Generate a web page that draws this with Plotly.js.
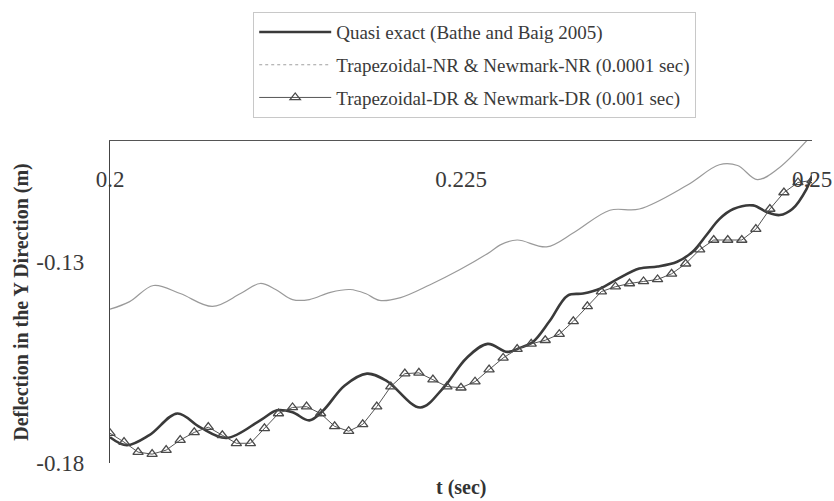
<!DOCTYPE html>
<html>
<head>
<meta charset="utf-8">
<script src="https://cdn.plot.ly/plotly-3.0.1.min.js"></script>
<style>html,body{margin:0;padding:0;background:#fff;}#chart{width:834px;height:501px;}</style>
</head>
<body>
<div id="chart"></div>
<script>
// Quasi exact (Bathe and Baig 2005)
var quasiT = [0.2000,0.2012,0.2028,0.2048,0.2064,0.2083,0.2107,0.2119,0.2130,0.2142,0.2152,0.2167,0.2183,0.2197,0.2221,0.2237,0.2254,0.2269,0.2283,0.2292,0.2301,0.2313,0.2326,0.2337,0.2349,0.2361,0.2377,0.2390,0.2404,0.2415,0.2425,0.2434,0.2444,0.2458,0.2468,0.2477,0.2486,0.2496,0.2500];
var quasiY = [-0.1736,-0.1756,-0.1731,-0.1677,-0.1711,-0.1738,-0.1694,-0.1669,-0.1674,-0.1694,-0.1669,-0.1608,-0.1578,-0.1596,-0.1662,-0.1615,-0.1539,-0.1504,-0.1524,-0.1514,-0.1500,-0.1448,-0.1384,-0.1379,-0.1367,-0.1344,-0.1317,-0.1312,-0.1300,-0.1275,-0.1233,-0.1194,-0.1169,-0.1160,-0.1177,-0.1184,-0.1169,-0.1120,-0.1086];

// Trapezoidal-NR & Newmark-NR (0.0001 sec)
var nrT = [0.2000,0.2014,0.2031,0.2050,0.2073,0.2093,0.2107,0.2118,0.2130,0.2142,0.2157,0.2171,0.2182,0.2192,0.2207,0.2228,0.2249,0.2271,0.2278,0.2290,0.2311,0.2331,0.2356,0.2377,0.2411,0.2434,0.2447,0.2461,0.2475,0.2500];
var nrY = [-0.1418,-0.1399,-0.1359,-0.1379,-0.1411,-0.1379,-0.1354,-0.1369,-0.1394,-0.1394,-0.1376,-0.1369,-0.1379,-0.1396,-0.1389,-0.1357,-0.1320,-0.1275,-0.1258,-0.1246,-0.1263,-0.1226,-0.1172,-0.1169,-0.1110,-0.1059,-0.1061,-0.1096,-0.1071,-0.0985];

// Trapezoidal-DR & Newmark-DR (0.001 sec)
var drT = [0.200,0.201,0.202,0.203,0.204,0.205,0.206,0.207,0.208,0.209,0.210,0.211,0.212,0.213,0.214,0.215,0.216,0.217,0.218,0.219,0.220,0.221,0.222,0.223,0.224,0.225,0.226,0.227,0.228,0.229,0.230,0.231,0.232,0.233,0.234,0.235,0.236,0.237,0.238,0.239,0.240,0.241,0.242,0.243,0.244,0.245,0.246,0.247,0.248,0.249,0.250];
var drY = [-0.1726,-0.1748,-0.1773,-0.1778,-0.1768,-0.1743,-0.1724,-0.1711,-0.1731,-0.1751,-0.1751,-0.1714,-0.1677,-0.1662,-0.1660,-0.1677,-0.1709,-0.1721,-0.1704,-0.1660,-0.1610,-0.1578,-0.1576,-0.1593,-0.1610,-0.1613,-0.1598,-0.1568,-0.1539,-0.1517,-0.1504,-0.1495,-0.1480,-0.1448,-0.1411,-0.1374,-0.1362,-0.1354,-0.1349,-0.1344,-0.1330,-0.1305,-0.1270,-0.1246,-0.1246,-0.1246,-0.1219,-0.1169,-0.1128,-0.1103,-0.1098];

var xTickVals = [0.2, 0.225, 0.25];
var xTickText = ['0.2', '0.225', '0.25'];
var yTickVals = [-0.18, -0.13];
var yTickText = ['-0.18', '-0.13'];

var serif = 'Liberation Serif, Times New Roman, serif';

var traces = [
  {x: quasiT, y: quasiY, type: 'scatter', mode: 'lines', name: 'Quasi exact (Bathe and Baig 2005)',
   line: {color: '#3a3a3a', width: 2.6, shape: 'spline', smoothing: 1}, legendgroup: 'a'},
  {x: nrT, y: nrY, type: 'scatter', mode: 'lines', name: 'Trapezoidal-NR & Newmark-NR (0.0001 sec)',
   line: {color: '#9a9a9a', width: 1.2, shape: 'spline', smoothing: 1}, showlegend: false, legendgroup: 'b'},
  {x: [null], y: [null], type: 'scatter', mode: 'lines', name: 'Trapezoidal-NR & Newmark-NR (0.0001 sec)',
   line: {color: '#a0a0a0', width: 1.2, dash: 'dot'}, legendgroup: 'b'},
  {x: drT, y: drY, type: 'scatter', mode: 'lines+markers', name: 'Trapezoidal-DR & Newmark-DR (0.001 sec)',
   line: {color: '#555555', width: 1}, legendgroup: 'c',
   marker: {symbol: 'triangle-up-open', size: 9, color: '#4a4a4a', line: {width: 1.3, color: '#4a4a4a'}}}
];

var layout = {
  width: 834, height: 501,
  margin: {l: 110, r: 22, t: 137, b: 38},
  paper_bgcolor: '#ffffff', plot_bgcolor: '#ffffff',
  font: {family: serif, color: '#333333'},
  showlegend: true,
  legend: {x: 0.204, y: 1.40, xanchor: 'left', yanchor: 'top',
    bordercolor: '#c8c8c8', borderwidth: 1, bgcolor: '#ffffff',
    font: {family: serif, size: 19, color: '#3a3a3a'},
    traceorder: 'grouped', tracegroupgap: 5, itemwidth: 72},
  xaxis: {range: [0.2, 0.25], side: 'top', showline: true, linecolor: '#555555', linewidth: 1.2,
    showgrid: false, zeroline: false, ticks: '',
    tickmode: 'array', tickvals: xTickVals, ticktext: xTickText,
    ticklabelposition: 'inside', ticklabeloverflow: 'allow', ticklabelstandoff: 32,
    tickfont: {family: serif, size: 23, color: '#3a3a3a'}},
  yaxis: {range: [-0.18, -0.10], showline: true, linecolor: '#444444', linewidth: 1.2,
    showgrid: false, zeroline: false, ticks: '', ticklabelstandoff: 20,
    tickmode: 'array', tickvals: yTickVals, ticktext: yTickText,
    tickfont: {family: serif, size: 23, color: '#3a3a3a'},
    title: {text: '<b>Deflection in the Y Direction (m)</b>', standoff: 2,
      font: {family: serif, size: 20, color: '#333333'}}},
  annotations: [
    {text: '<b>t (sec)</b>', xref: 'paper', yref: 'paper', x: 0.5, y: -0.077,
     xanchor: 'center', yanchor: 'middle', showarrow: false,
     font: {family: serif, size: 20, color: '#333333'}}
  ]
};

Plotly.newPlot('chart', traces, layout, {displayModeBar: false, staticPlot: true});
</script>
</body>
</html>
